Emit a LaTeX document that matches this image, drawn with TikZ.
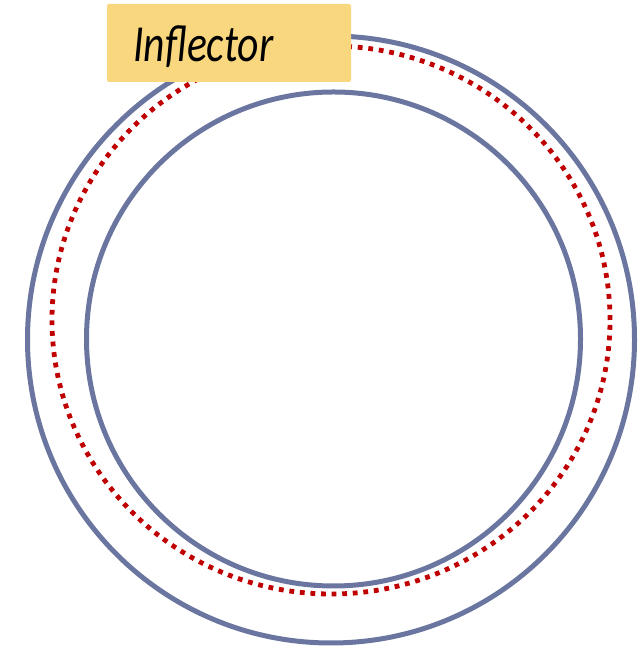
\documentclass[tikz,border=0pt]{standalone}
\usepackage{fontspec}
\setmainfont{Carlito}
\usepackage{graphicx}
\definecolor{ringblue}{HTML}{6A76A0}
\definecolor{dotred}{HTML}{C00000}
\definecolor{labelfill}{HTML}{F9D77E}
\tikzset{
  ring/.style={draw=ringblue, line width=5pt},
  dotring/.style={draw=dotred, line width=4.8pt, dash pattern=on 4.8pt off 5.8pt},
  labelbox/.style={fill=labelfill, rounded corners=2pt},
  labeltext/.style={font=\fontsize{52}{52}\selectfont\itshape, inner sep=0pt, anchor=base west}
}
\begin{document}
\begin{tikzpicture}[x=1pt,y=1pt]
\useasboundingbox (0,0) rectangle (638,647);
\draw[ring] (331,307.5) circle (303.5);
\draw[ring] (333.5,308) circle (247);
\draw[dotring] (331,327) ellipse [x radius=279, y radius=274];
\path[labelbox] (107,565) rectangle (351,643);
\node[labeltext] (lbl) at (133,585) {\scalebox{0.8}[1]{Inflector}};
\end{tikzpicture}
\end{document}
